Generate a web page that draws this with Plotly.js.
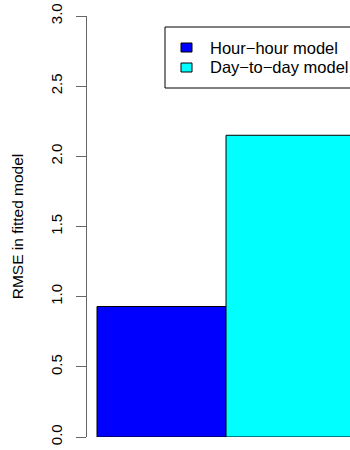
<!DOCTYPE html>
<html>
<head>
<meta charset="utf-8">
<script src="https://cdn.plot.ly/plotly-3.0.1.min.js"></script>
<style>html,body{margin:0;padding:0;background:#fff;}#chart{width:350px;height:450px;}</style>
</head>
<body>
<div id="chart"></div>
<script>
const seriesNames = ["Hour\u2212hour model", "Day\u2212to\u2212day model"];
const seriesPositions = [0, 1];
const rmseValues = [0.93, 2.15];
const seriesColors = ["#0000FF", "#00FFFF"];
const yTickValues = [0, 0.5, 1, 1.5, 2, 2.5, 3];
const yTickLabels = ["0.0", "0.5", "1.0", "1.5", "2.0", "2.5", "3.0"];

const traces = seriesNames.map((name, i) => ({
  type: "bar",
  name: name,
  x: [seriesPositions[i]],
  y: [rmseValues[i]],
  width: [1],
  marker: { color: seriesColors[i], line: { color: "#000000", width: 1 } },
  hoverinfo: "skip",
  showlegend: false
}));

const W = 350, H = 450;
const M = { l: 87, r: 0, t: 16, b: 13 };
const PW = W - M.l - M.r, PH = H - M.t - M.b;
const px2x = px => (px - M.l) / PW;
const py2y = py => (H - M.b - py) / PH;

// legend drawn from the series arrays
const shapes = [{
  type: "rect", xref: "paper", yref: "paper", layer: "above",
  x0: px2x(165), x1: px2x(380), y0: py2y(88), y1: py2y(27),
  fillcolor: "#ffffff", line: { color: "#000000", width: 1 }
}];
const annotations = [];
seriesNames.forEach((name, i) => {
  const cy = 47.5 + 20 * i;
  shapes.push({
    type: "rect", xref: "paper", yref: "paper", layer: "above",
    x0: px2x(181), x1: px2x(192), y0: py2y(cy + 4.5), y1: py2y(cy - 4.5),
    fillcolor: seriesColors[i], line: { color: "#000000", width: 1 }
  });
  annotations.push({
    xref: "paper", yref: "paper", x: px2x(208), y: py2y(cy),
    xanchor: "left", yanchor: "middle", showarrow: false,
    text: name, font: { size: 16.5, color: "#000000" }
  });
});

const layout = {
  width: W, height: H,
  margin: { l: M.l, r: M.r, t: M.t, b: M.b, pad: 0, autoexpand: false },
  paper_bgcolor: "#ffffff",
  plot_bgcolor: "#ffffff",
  font: { family: "Liberation Sans, Arial, sans-serif", size: 15, color: "#000000" },
  showlegend: false,
  barmode: "overlay",
  xaxis: {
    range: [-0.5775, 1.461],
    visible: false,
    fixedrange: true
  },
  yaxis: {
    range: [0, 3],
    tickvals: yTickValues,
    ticktext: yTickLabels,
    tickangle: -90,
    ticks: "outside",
    ticklen: 10,
    tickwidth: 1,
    tickcolor: "#666666",
    ticklabelstandoff: 8,
    showline: true,
    linecolor: "#666666",
    linewidth: 1,
    showgrid: false,
    zeroline: false,
    automargin: false,
    tickfont: { size: 15, color: "#000000" },
    title: { text: "RMSE in fitted model", font: { size: 15.5, color: "#000000" }, standoff: 20 }
  },
  shapes: shapes,
  annotations: annotations
};

Plotly.newPlot("chart", traces, layout, { staticPlot: true, displayModeBar: false });
</script>
</body>
</html>
